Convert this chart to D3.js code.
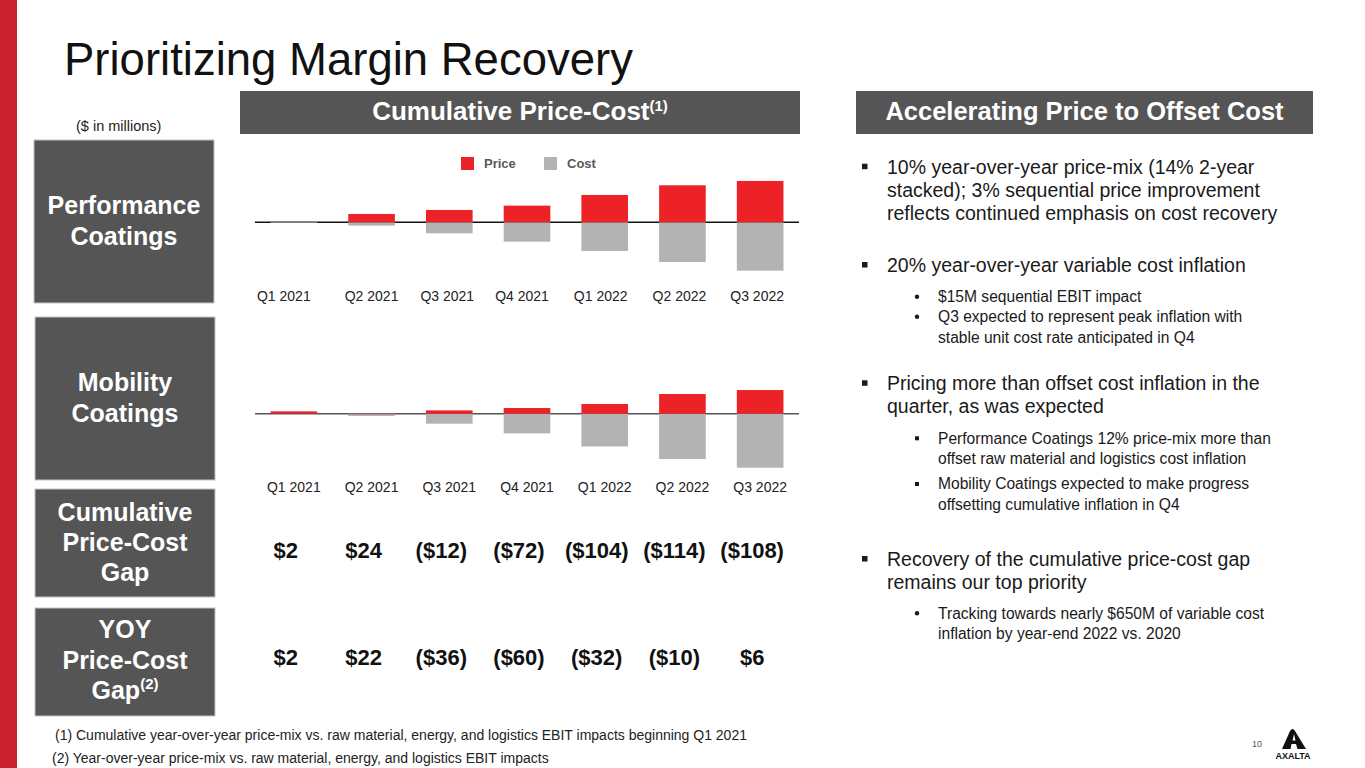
<!DOCTYPE html>
<html>
<head>
<meta charset="utf-8">
<script src="https://cdn.jsdelivr.net/npm/d3@7"></script>
<style>
  body { margin: 0; background: #fff; }
  svg { display: block; font-family: "Liberation Sans", Arial, sans-serif; }
</style>
</head>
<body>
<div id="slide"></div>
<script>
// data ($ in millions)
const quarters = ["Q1 2021", "Q2 2021", "Q3 2021", "Q4 2021", "Q1 2022", "Q2 2022", "Q3 2022"];
const perfPrice = [0, 25, 37, 50, 82, 111, 124];
const perfCost = [-2, -10, -33, -58, -86, -119, -145];
const mobPrice = [7, -3, 10, 17, 29, 59, 71];
const mobCost = [0, -7, -30, -59, -98, -136, -162];
const cumGap = [2, 24, -12, -72, -104, -114, -108];
const yoyGap = [2, 22, -36, -60, -32, -10, 6];

const RED = "#ed2227", GRAY = "#b3b3b3", DARK = "#555555";

const svg = d3.select("#slide").append("svg").attr("width", 1365).attr("height", 768);

// red side stripe
svg.append("rect").attr("x", 0).attr("y", 0).attr("width", 17).attr("height", 768).attr("fill", "#c8202e");

svg.append("text").attr("x", 64).attr("y", 75).attr("font-size", 45.5).attr("fill", "#111")
  .text("Prioritizing Margin Recovery");

// header bars
function header(x, w, label, sup, fs) {
  svg.append("rect").attr("x", x).attr("y", 91).attr("width", w).attr("height", 43).attr("fill", DARK);
  let t = svg.append("text").attr("x", x + w / 2).attr("y", 120).attr("text-anchor", "middle")
    .attr("font-size", fs).attr("font-weight", "bold").attr("fill", "#fff");
  t.append("tspan").text(label);
  if (sup) t.append("tspan").attr("dy", -9).attr("font-size", 15).text(sup);
}
header(240, 560, "Cumulative Price-Cost", "(1)", 26);
header(856, 457, "Accelerating Price to Offset Cost", null, 25.5);

svg.append("text").attr("x", 76).attr("y", 131).attr("font-size", 14.5).attr("fill", "#222").text("($ in millions)");

// left label boxes
function box(x, y, w, h, lines, lineY, sup) {
  svg.append("rect").attr("x", x).attr("y", y).attr("width", w).attr("height", h)
    .attr("fill", DARK).attr("stroke", "#c4c4c4").attr("stroke-width", 1);
  lines.forEach((l, i) => {
    let t = svg.append("text").attr("x", x + w / 2).attr("y", lineY[i]).attr("text-anchor", "middle")
      .attr("font-size", 25).attr("font-weight", "bold").attr("fill", "#fff");
    t.append("tspan").text(l);
    if (sup && i == lines.length - 1) t.append("tspan").attr("dy", -10).attr("font-size", 15).text(sup);
  });
}
box(34, 140, 180, 163, ["Performance", "Coatings"], [214, 245]);
box(35, 317, 180, 163, ["Mobility", "Coatings"], [391, 422]);
box(35, 489, 180, 108, ["Cumulative", "Price-Cost", "Gap"], [521, 551, 581]);
box(35, 608, 180, 108, ["YOY", "Price-Cost", "Gap"], [638, 669, 699], "(2)");

// charts
const x = d3.scaleBand().domain(quarters).range([255, 799]).paddingInner(0.4).paddingOuter(0.2);
const bw = x.bandwidth();

function barChart(price, cost, base, lineColor, labelY, labelShift) {
  // 3 $M per pixel
  const y = d3.scaleLinear().domain([-150, 150]).range([base + 50, base - 50]);
  const g = svg.append("g");
  g.append("line").attr("x1", 255).attr("x2", 799).attr("y1", y(0)).attr("y2", y(0))
    .attr("stroke", lineColor).attr("stroke-width", 1.5);
  g.selectAll(".cost").data(cost).join("rect")
    .attr("x", (d, i) => x(quarters[i])).attr("width", bw)
    .attr("y", d => Math.min(y(0), y(d))).attr("height", d => Math.abs(y(d) - y(0)))
    .attr("fill", GRAY);
  g.selectAll(".price").data(price).join("rect")
    .attr("x", (d, i) => x(quarters[i])).attr("width", bw)
    .attr("y", d => Math.min(y(0), y(d))).attr("height", d => Math.abs(y(d) - y(0)))
    .attr("fill", RED).attr("fill-opacity", d => d < 0 ? 0.35 : 1);
  g.selectAll(".lab").data(quarters).join("text")
    .attr("x", (d, i) => x(d) + bw / 2 + labelShift[i]).attr("y", labelY)
    .attr("text-anchor", "middle").attr("font-size", 14).attr("fill", "#222").text(d => d);
}
barChart(perfPrice, perfCost, 222.3, "#111", 301, [-10, 0, -2, -5, -4, -3, -3]);
barChart(mobPrice, mobCost, 413.7, "#555", 492, [0, 0, 0, 0, 0, 0, 0]);

// legend
const legend = svg.append("g").attr("font-size", 13).attr("font-weight", "bold").attr("fill", "#595959");
[["Price", RED, 461], ["Cost", GRAY, 544]].forEach(([name, c, lx]) => {
  legend.append("rect").attr("x", lx).attr("y", 157).attr("width", 13).attr("height", 13).attr("fill", c);
  legend.append("text").attr("x", lx + 23).attr("y", 168).text(name);
});

// gap rows
const fmt = v => v < 0 ? "($" + (-v) + ")" : "$" + v;
function valueRow(vals, yPos) {
  svg.append("g").selectAll("text").data(vals).join("text")
    .attr("x", (d, i) => x(quarters[i]) + bw / 2 - 8).attr("y", yPos)
    .attr("text-anchor", "middle").attr("font-size", 22).attr("font-weight", "bold").attr("fill", "#111")
    .text(fmt);
}
valueRow(cumGap, 558);
valueRow(yoyGap, 665);

// right panel text
const bullets = [
  { lvl: 0, lines: ["10% year-over-year price-mix (14% 2-year", "stacked); 3% sequential price improvement", "reflects continued emphasis on cost recovery"], y: 166.7 },
  { lvl: 0, lines: ["20% year-over-year variable cost inflation"], y: 265 },
  { lvl: 1, mark: "dot", lines: ["$15M sequential EBIT impact"], y: 296.7 },
  { lvl: 1, mark: "dot", lines: ["Q3 expected to represent peak inflation with", "stable unit cost rate anticipated in Q4"], y: 316.7 },
  { lvl: 0, lines: ["Pricing more than offset cost inflation in the", "quarter, as was expected"], y: 383.3 },
  { lvl: 1, mark: "sq", lines: ["Performance Coatings 12% price-mix more than", "offset raw material and logistics cost inflation"], y: 438.3 },
  { lvl: 1, mark: "sq", lines: ["Mobility Coatings expected to make progress", "offsetting cumulative inflation in Q4"], y: 484 },
  { lvl: 0, lines: ["Recovery of the cumulative price-cost gap", "remains our top priority"], y: 559 },
  { lvl: 1, mark: "dot", lines: ["Tracking towards nearly $650M of variable cost", "inflation by year-end 2022 vs. 2020"], y: 613.3 }
];
const rp = svg.append("g").attr("fill", "#1a1a1a");
bullets.forEach(b => {
  const fs = b.lvl == 0 ? 19.5 : 15.6, lh = b.lvl == 0 ? 23.3 : 20.5, tx = b.lvl == 0 ? 887 : 938;
  if (b.lvl == 0) rp.append("rect").attr("x", 862).attr("y", b.y - 3).attr("width", 5.5).attr("height", 5.5);
  else if (b.mark == "sq") rp.append("rect").attr("x", 915).attr("y", b.y - 2).attr("width", 4).attr("height", 4);
  else rp.append("circle").attr("cx", 917).attr("cy", b.y).attr("r", 2.2);
  b.lines.forEach((l, i) => {
    rp.append("text").attr("x", tx).attr("y", b.y + i * lh + fs * 0.35).attr("font-size", fs).text(l);
  });
});

// footnotes
svg.append("text").attr("x", 55).attr("y", 740).attr("font-size", 14).attr("fill", "#222")
  .text("(1) Cumulative year-over-year price-mix vs. raw material, energy, and logistics EBIT impacts beginning Q1 2021");
svg.append("text").attr("x", 52).attr("y", 763).attr("font-size", 14).attr("fill", "#222")
  .text("(2)  Year-over-year price-mix vs. raw material, energy, and logistics EBIT impacts");

// page number + logo
svg.append("text").attr("x", 1252).attr("y", 747).attr("font-size", 9).attr("fill", "#555").text("10");
const logo = svg.append("g");
logo.append("path").attr("d", "M1282,749 L1290,731 Q1292.5,727 1295,731 L1306,749 L1297.5,749 L1296,744 L1291.5,744 L1290.5,749 Z M1292.5,740.5 L1295.5,740.5 L1294,734 Z")
  .attr("fill", "#111").attr("fill-rule", "evenodd");
logo.append("text").attr("x", 1293).attr("y", 759).attr("text-anchor", "middle").attr("font-size", 9)
  .attr("font-weight", "bold").attr("fill", "#111").text("AXALTA");
</script>
</body>
</html>
